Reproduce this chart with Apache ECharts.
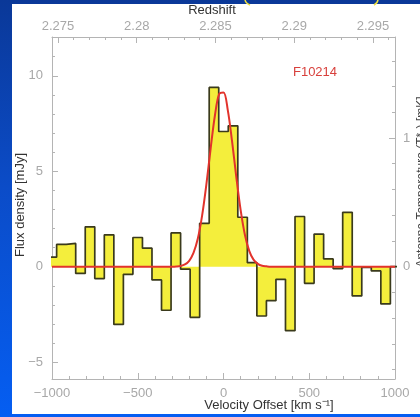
<!DOCTYPE html>
<html>
<head>
<meta charset="utf-8">
<script src="https://cdn.jsdelivr.net/npm/echarts@6/dist/echarts.min.js"></script>
<style>
  html, body { margin: 0; padding: 0; }
  body {
    width: 420px; height: 417px; position: relative; overflow: hidden;
    background: linear-gradient(180deg, #0a3898 0%, #0b4cc8 45%, #055ef2 100%);
  }
  #panel { position: absolute; left: 12px; top: 4px; width: 408px; height: 410px; background: #fff; }
  #chart { position: absolute; left: 0; top: 0; width: 420px; height: 417px; }
</style>
</head>
<body>
<div id="panel"></div>
<div id="chart"></div>
<script>
// Spectrum channels: first channel starts at channelStart (km/s), fixed width
const channelStart = -1028.6;
const channelWidth = 55.6;
const fluxDensity = [
  0.50, 1.17, 1.22, -0.35, 2.09, -0.62, 1.67, -3.02, -0.40, 1.53,
  0.97, -0.69, -2.28, 1.77, -0.13, -2.65, 2.27, 9.39, 7.08, 7.38,
  2.59, 0.21, -2.58, -1.78, -0.66, -3.35, 2.63, -0.87, 1.71, 0.41,
  -0.10, 2.85, -1.53, -0.03, -0.22, -1.95, 0.00
];

// Gaussian line fit (mJy) sampled along velocity
const fitVelocity = [-1000, -325, -300, -275, -250, -225, -200, -175, -150, -125, -100, -75, -50, -25, 0,
  25, 50, 75, 100, 125, 150, 175, 200, 225, 250, 275, 300, 1000];
const fitFlux = [0, 0, 0, 0.01, 0.04, 0.12, 0.31, 0.72, 1.46, 2.66, 4.30, 6.19, 7.92, 9.05, 9.13,
  8.20, 6.56, 4.67, 2.96, 1.66, 0.83, 0.37, 0.15, 0.05, 0.02, 0, 0, 0];

// Axis ticks
const redshiftMajor = [2.275, 2.28, 2.285, 2.29, 2.295];
const redshiftMinor = [2.275, 2.276, 2.277, 2.278, 2.279, 2.28, 2.281, 2.282, 2.283, 2.284, 2.285,
  2.286, 2.287, 2.288, 2.289, 2.29, 2.291, 2.292, 2.293, 2.294, 2.295, 2.296];
const fluxMajor = [-5, 0, 5, 10];
const fluxMinor = [-5, -4, -3, -2, -1, 0, 1, 2, 3, 4, 5, 6, 7, 8, 9, 10, 11, 12];
const tempMajor = [0, 1];
const tempMinor = [-0.8, -0.6, -0.4, -0.2, 0, 0.2, 0.4, 0.6, 0.8, 1, 1.2, 1.4, 1.6];

const histogram = [];
fluxDensity.forEach((f, i) => {
  const lo = channelStart + i * channelWidth;
  histogram.push([lo, f], [lo + channelWidth, f]);
});
const fitCurve = fitVelocity.map((v, i) => [v, fitFlux[i]]);

const FONT = 'Liberation Sans, Arial, Helvetica, sans-serif';
const LABEL_GRAY = '#a8a8a8';
const AXIS_GRAY = '#b4b4b4';
const minus = s => String(s).replace('-', '\u2212');

const shownLine = { show: true, onZero: false, lineStyle: { color: AXIS_GRAY, width: 1 } };
const hiddenLine = { show: false, onZero: false };
const noLabel = { show: false };
const noSplit = { show: false };

const chart = echarts.init(document.getElementById('chart'), null, { renderer: 'canvas' });
chart.setOption({
  backgroundColor: 'transparent',
  animation: false,
  grid: { left: 52, right: 25, top: 37, bottom: 38, containLabel: false },
  xAxis: [
    {
      type: 'value', position: 'bottom', min: -1000, max: 1000, interval: 500,
      axisLine: shownLine,
      axisTick: { show: true, inside: true, length: 6, lineStyle: { color: AXIS_GRAY } },
      minorTick: { show: true, splitNumber: 5, length: 3, lineStyle: { color: AXIS_GRAY } },
      axisLabel: { color: LABEL_GRAY, fontFamily: FONT, fontSize: 13, margin: 8, formatter: v => minus(v) },
      splitLine: noSplit
    },
    {
      type: 'value', position: 'top', min: 2.27462, max: 2.29640,
      axisLine: shownLine,
      axisTick: { show: true, inside: true, length: 6, customValues: redshiftMajor, lineStyle: { color: AXIS_GRAY } },
      axisLabel: { show: true, customValues: redshiftMajor, color: LABEL_GRAY, fontFamily: FONT, fontSize: 13, margin: 4,
        formatter: v => v.toFixed(3).replace(/0+$/, '') },
      splitLine: noSplit
    },
    {
      type: 'value', position: 'top', min: 2.27462, max: 2.29640,
      axisLine: hiddenLine,
      axisTick: { show: true, inside: true, length: 3, customValues: redshiftMinor, lineStyle: { color: AXIS_GRAY } },
      axisLabel: noLabel, splitLine: noSplit
    }
  ],
  yAxis: [
    {
      type: 'value', position: 'left', min: -5.88, max: 12.03,
      axisLine: shownLine,
      axisTick: { show: true, inside: true, length: 6, customValues: fluxMajor, lineStyle: { color: AXIS_GRAY } },
      axisLabel: { show: true, customValues: fluxMajor, color: LABEL_GRAY, fontFamily: FONT, fontSize: 13, margin: 9,
        formatter: v => minus(v) },
      splitLine: noSplit
    },
    {
      type: 'value', position: 'left', min: -5.88, max: 12.03,
      axisLine: hiddenLine,
      axisTick: { show: true, inside: true, length: 3, customValues: fluxMinor, lineStyle: { color: AXIS_GRAY } },
      axisLabel: noLabel, splitLine: noSplit
    },
    {
      type: 'value', position: 'right', min: -0.873, max: 1.785,
      axisLine: shownLine,
      axisTick: { show: true, inside: true, length: 6, customValues: tempMajor, lineStyle: { color: AXIS_GRAY } },
      axisLabel: { show: true, customValues: tempMajor, color: LABEL_GRAY, fontFamily: FONT, fontSize: 13, margin: 8 },
      splitLine: noSplit
    },
    {
      type: 'value', position: 'right', min: -0.873, max: 1.785,
      axisLine: hiddenLine,
      axisTick: { show: true, inside: true, length: 3, customValues: tempMinor, lineStyle: { color: AXIS_GRAY } },
      axisLabel: noLabel, splitLine: noSplit
    }
  ],
  series: [
    {
      name: 'CO spectrum', type: 'line', xAxisIndex: 0, yAxisIndex: 0,
      data: histogram, symbol: 'none', clip: true, z: 2,
      lineStyle: { color: '#3a3a1c', width: 1.7 },
      areaStyle: { color: '#f4ee3c', opacity: 1, origin: 0 }
    },
    {
      name: 'Gaussian fit', type: 'line', xAxisIndex: 0, yAxisIndex: 0,
      data: fitCurve, symbol: 'none', smooth: 0.35, clip: true, z: 3,
      lineStyle: { color: '#e2332c', width: 2 }
    }
  ],
  graphic: [
    { type: 'text', x: 212, y: 10, style: { text: 'Redshift', fill: '#333', font: '13px ' + FONT, textAlign: 'center', textVerticalAlign: 'middle' } },
    { type: 'text', x: 269, y: 405, style: { text: 'Velocity Offset [km s\u207B\u00B9]', fill: '#333', font: '13px ' + FONT, textAlign: 'center', textVerticalAlign: 'middle' } },
    { type: 'text', x: 20, y: 205, rotation: Math.PI / 2, style: { text: 'Flux density [mJy]', fill: '#333', font: '13px ' + FONT, textAlign: 'center', textVerticalAlign: 'middle' } },
    { type: 'text', x: 422, y: 182, rotation: Math.PI / 2, style: { text: 'Antenna Temperature (T*\u2090) [mK]', fill: '#444', font: '12px ' + FONT, textAlign: 'center', textVerticalAlign: 'middle' } },
    { type: 'text', x: 315, y: 72, style: { text: 'F10214', fill: '#d8403c', font: '13px ' + FONT, textAlign: 'center', textVerticalAlign: 'middle' } },
    { type: 'bezierCurve', shape: { x1: 245, y1: -1, x2: 250, y2: 5, cpx1: 245, cpy1: 3 }, style: { stroke: '#f0e040', lineWidth: 1.5, fill: null } },
    { type: 'bezierCurve', shape: { x1: 378, y1: -1, x2: 374, y2: 5, cpx1: 378, cpy1: 3 }, style: { stroke: '#f0e040', lineWidth: 1.5, fill: null } }
  ]
});
</script>
</body>
</html>
